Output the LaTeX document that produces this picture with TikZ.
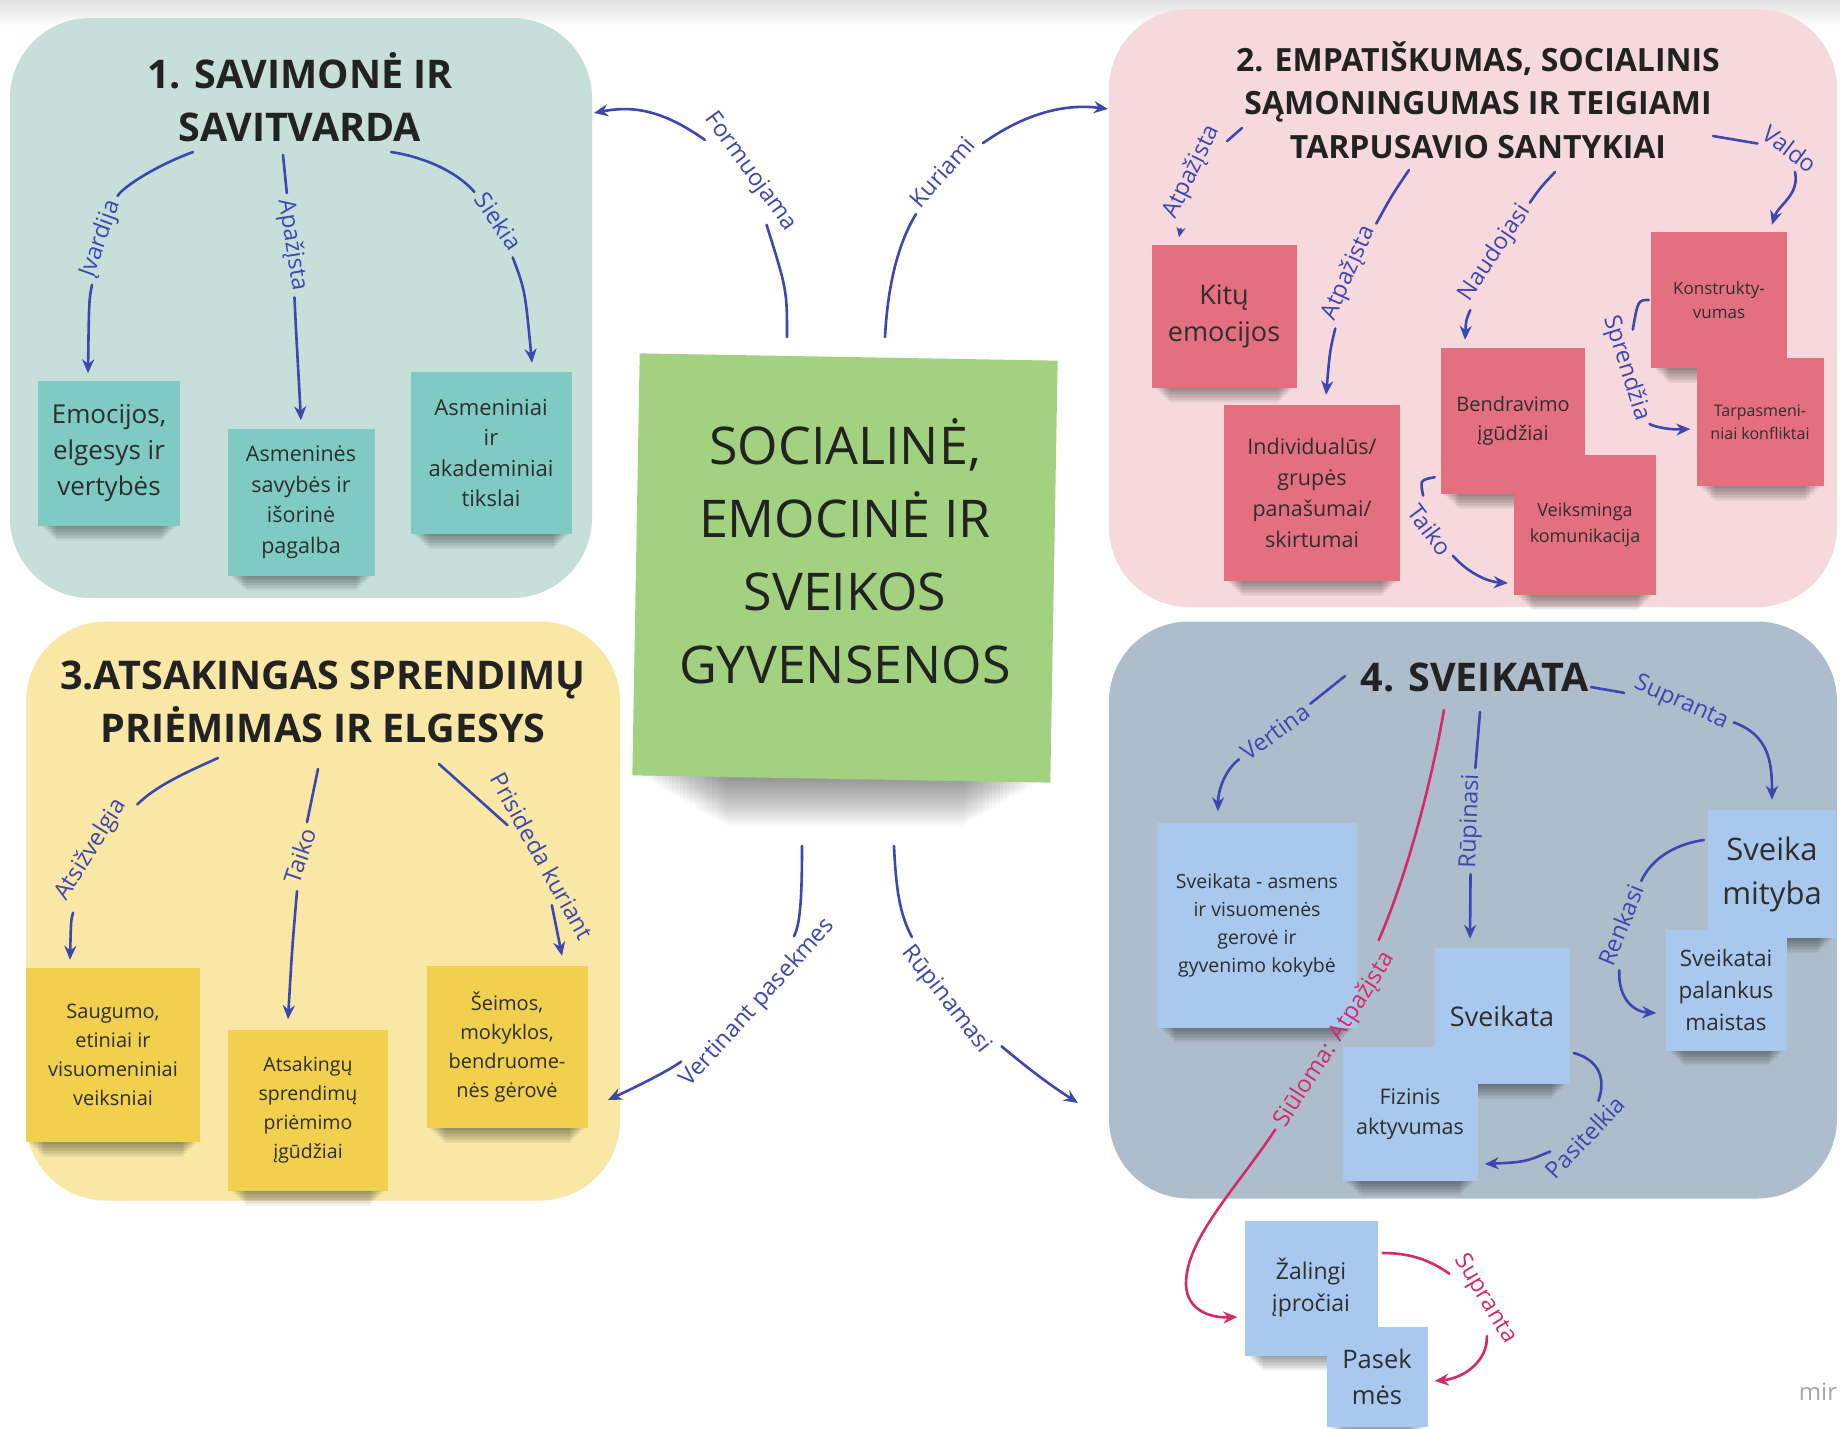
\documentclass[tikz,border=0pt]{standalone}
\usepackage{fontspec}
\setmainfont{Open Sans}
\usetikzlibrary{arrows.meta,calc}
\definecolor{bgA}{HTML}{C6E0D9}
\definecolor{ntA}{HTML}{7FCAC2}
\definecolor{bgB}{HTML}{F5D9DD}
\definecolor{ntB}{HTML}{E4707F}
\definecolor{bgC}{HTML}{F8E7A5}
\definecolor{ntC}{HTML}{F1D04D}
\definecolor{bgD}{HTML}{AEBDCC}
\definecolor{ntD}{HTML}{A8C8EE}
\definecolor{ctr}{HTML}{A2D17F}
\definecolor{arrowblue}{HTML}{3D47B0}
\definecolor{crimson}{HTML}{D42A6B}
\definecolor{ink}{HTML}{222222}
\definecolor{noteink}{HTML}{2E2E2E}
\newcommand{\myfs}[2]{\fontsize{#1}{#2}\selectfont}
% #1 name, #2 x, #3 y, #4 w, #5 h, #6 options, #7 text
\newcommand{\stickynote}[7]{%
  \foreach \k in {1,...,10}{%
    \fill[black, fill opacity=0.045]
      ({#2-#4/2+2+\k*1.6},{#3+#5/2-2}) rectangle ({#2+#4/2-2-\k*1.6},{#3+#5/2+\k*1.5});}
  \node[note, nsize={#4}{#5}, #6] (#1) at (#2,#3) {#7};}
\begin{document}
\begin{tikzpicture}[x=1pt,y=-1pt,
  area/.style={rounded corners=80pt, inner sep=0pt},
  note/.style={align=center, inner sep=0pt, text=noteink},
  nsize/.style 2 args={minimum width=#1pt, minimum height=#2pt},
  ttl/.style={align=center, font=\bfseries\myfs{39.5}{53}, text=ink},
  arr/.style={draw=arrowblue, line width=2.6pt, line cap=round},
  crim/.style={draw=crimson, line width=2.6pt, line cap=round},
  arrtip/.style={-{Stealth[length=14pt,width=12pt]}},
  arrtipS/.style={-{Stealth[length=10pt,width=9pt]}},
  lbl/.style={text=arrowblue, font=\myfs{23.5}{28}, inner sep=6pt},
  clbl/.style={lbl, text=crimson}]
\useasboundingbox (0,0) rectangle (1840,1428);
\clip (0,0) rectangle (1840,1428);
\fill[white] (0,0) rectangle (1840,1428);
\shade[top color=black!12, bottom color=white] (0,0) rectangle (1840,26);

% areas
\node[area, fill=bgA, minimum width=582pt, minimum height=580pt] (box1) at (301,308) {};
\node[area, fill=bgB, minimum width=728pt, minimum height=598pt] (box2) at (1473,308) {};
\node[area, fill=bgC, minimum width=594pt, minimum height=579pt] (box3) at (323,911) {};
\node[area, fill=bgD, minimum width=728pt, minimum height=577pt] (box4) at (1473,910) {};

% titles
\node[ttl] (t1) at (300,97) {1. SAVIMONĖ IR\\SAVITVARDA};
\node[ttl, font=\bfseries\myfs{32}{43.5}] (t2) at (1478,100) {2. EMPATIŠKUMAS, SOCIALINIS\\SĄMONINGUMAS IR TEIGIAMI\\TARPUSAVIO SANTYKIAI};
\node[ttl] (t3) at (323,702) {3.ATSAKINGAS SPRENDIMŲ\\PRIĖMIMAS IR ELGESYS};
\node[ttl] (t4) at (1475,677) {4. SVEIKATA};

% center note with soft shadow
\foreach \k in {1,...,24}{%
  \fill[black, fill opacity=0.018] ({640+\k*3.6},{772}) rectangle ({1050-\k*3.6},{776+\k*2.1});}
\node[inner sep=0pt, fill=ctr, nsize={418}{422}, rotate=-1] (gr) at (845,568) {};
\node[align=center, inner sep=0pt, text=ink, font=\myfs{52}{73}] (grt) at (845,551)
  {SOCIALINĖ,\\EMOCINĖ IR\\SVEIKOS\\GYVENSENOS};

% box 1 notes
\stickynote{e11}{109}{453}{142}{145}{fill=ntA, font=\myfs{26}{36}}{Emocijos,\\elgesys ir\\vertybės}
\stickynote{e12}{301}{502}{147}{147}{fill=ntA, font=\myfs{21.5}{30.5}}{Asmeninės\\savybės ir\\išorinė\\pagalba}
\stickynote{e13}{491}{453}{161}{162}{fill=ntA, font=\myfs{22}{30.5}}{Asmeniniai\\ir\\akademiniai\\tikslai}

% box 2 notes
\stickynote{e21}{1224}{316}{145}{143}{fill=ntB, font=\myfs{27}{37}}{Kitų\\emocijos}
\stickynote{e22}{1312}{493}{176}{176}{fill=ntB, font=\myfs{21.5}{31}}{Individualūs/\\grupės\\panašumai/\\skirtumai}
\stickynote{e23}{1513}{421}{144}{146}{fill=ntB, font=\myfs{20}{29}}{Bendravimo\\įgūdžiai}
\stickynote{e27}{1585}{525}{142}{140}{fill=ntB, font=\myfs{18}{26}}{Veiksminga\\komunikacija}
\stickynote{e24}{1719}{300}{136}{136}{fill=ntB, font=\myfs{17}{24}}{Konstrukty-\\vumas}
\stickynote{e25}{1760}{422}{127}{128}{fill=ntB, font=\myfs{16}{23}}{Tarpasmeni-\\niai konfliktai}

% box 3 notes
\stickynote{e31}{113}{1055}{174}{174}{fill=ntC, font=\myfs{20}{29}}{Saugumo,\\etiniai ir\\visuomeniniai\\veiksniai}
\stickynote{e32}{308}{1110}{160}{161}{fill=ntC, font=\myfs{19.5}{29}}{Atsakingų\\sprendimų\\priėmimo\\įgūdžiai}
\stickynote{e33}{507}{1047}{161}{162}{fill=ntC, font=\myfs{20}{29}}{Šeimos,\\mokyklos,\\bendruome-\\nės gėrovė}

% box 4 notes
\stickynote{e41}{1257}{925}{200}{205}{fill=ntD, font=\myfs{19.5}{28}}{Sveikata - asmens\\ir visuomenės\\gerovė ir\\gyvenimo kokybė}
\stickynote{e43}{1502}{1016}{135}{136}{fill=ntD, font=\myfs{27}{36}}{Sveikata}
\stickynote{e44}{1410}{1114}{135}{134}{fill=ntD, font=\myfs{21.5}{30}}{Fizinis\\aktyvumas}
\stickynote{e42}{1772}{874}{128}{128}{fill=ntD, font=\myfs{31}{44}}{Sveika\\mityba}
\stickynote{e45}{1726}{990}{121}{121}{fill=ntD, font=\myfs{22.5}{32}}{Sveikatai\\palankus\\maistas}
\stickynote{e51}{1311}{1288}{133}{135}{fill=ntD, font=\myfs{23}{32}}{Žalingi\\įpročiai}
\stickynote{e52}{1377}{1377}{101}{100}{fill=ntD, font=\myfs{25.5}{36}}{Pasek\\mės}

\node[text=black!35, font=\myfs{24}{28}, inner sep=0pt] (miro) at (1818,1392) {mir};

% ---------- connectors: box 1
\coordinate (s11) at (193,152);
\coordinate (s12) at (283,155);
\coordinate (s13) at (391,152);
\node[lbl, rotate=70] (l11) at (101,239) {Įvardija};
\node[lbl, rotate=-81] (l12) at (292,245) {Apažįsta};
\node[lbl, rotate=-56] (l13) at (499,221) {Siekia};
\draw[arr] (s11) .. controls (150,168) and (120,190) .. (l11);
\draw[arr,arrtip] (l11) .. controls (89,300) .. ($(e11.north)+(-21,-7)$);
\draw[arr] (s12) -- (l12);
\draw[arr,arrtip] (l12) .. controls (296,330) .. ($(e12.north)+(0,-8)$);
\draw[arr] (s13) .. controls (430,158) and (460,175) .. (l13);
\draw[arr,arrtip] (l13) .. controls (525,290) .. ($(e13.north)+(41,-9)$);

% ---------- central connectors
\coordinate (s0a) at (787,337);
\coordinate (s0b) at (885,337);
\coordinate (s0c) at (802,846);
\coordinate (s0d) at (894,846);
\coordinate (in1) at (594,113);
\coordinate (in2) at (1108,109);
\coordinate (in3) at (608,1100);
\coordinate (in4) at (1078,1103);
\node[lbl, rotate=-54] (lF) at (750,172) {Formuojama};
\node[lbl, rotate=48.5] (lK) at (942,172) {Kuriami};
\node[lbl, rotate=48] (lV) at (758,1003) {Vertinant pasekmes};
\node[lbl, rotate=-52] (lR) at (946,1000) {Rūpinamasi};
\draw[arr] (s0a) .. controls (787,290) .. (lF);
\draw[arr,arrtip] (lF) .. controls (660,108) and (630,106) .. (in1);
\draw[arr] (s0b) .. controls (888,280) and (900,240) .. (lK);
\draw[arr,arrtip] (lK) .. controls (1030,110) and (1070,104) .. (in2);
\draw[arr] (s0c) .. controls (802,900) and (800,925) .. (lV);
\draw[arr,arrtip] (lV) .. controls (670,1070) and (640,1085) .. (in3);
\draw[arr] (s0d) .. controls (896,890) and (900,915) .. (lR);
\draw[arr,arrtip] (lR) .. controls (1030,1070) and (1050,1085) .. (in4);

% ---------- box 2 connectors
\coordinate (s21) at (1242,128);
\coordinate (s22) at (1409,170);
\coordinate (s23) at (1555,172);
\coordinate (s24) at (1713,136);
\coordinate (s25) at ($(e24.west)+(-2,0)$);
\coordinate (s26) at ($(e23.south west)+(-6,-17)$);
\node[lbl, rotate=64] (l21) at (1192,172) {Atpažįsta};
\node[lbl, rotate=66] (l22) at (1349,273) {Atpažįsta};
\node[lbl, rotate=56] (l23) at (1495,253) {Naudojasi};
\node[lbl, rotate=-37] (l24) at (1790,149) {Valdo};
\node[lbl, rotate=-72.5] (l25) at (1626,368) {Sprendžia};
\node[lbl, rotate=-53] (l26) at (1430,530) {Taiko};
\draw[arr] (s21) -- (l21);
\draw[arr,arrtipS] (l21) -- ($(e21.north)+(-45,-7)$);
\draw[arr] (s22) .. controls (1392,195) .. (l22);
\draw[arr,arrtip] (l22) .. controls (1330,350) .. ($(e22.north)+(14,-10)$);
\draw[arr] (s23) .. controls (1540,188) .. (l23);
\draw[arr,arrtip] (l23) .. controls (1466,320) .. ($(e23.north)+(-48,-8)$);
\draw[arr] (s24) -- (l24);
\draw[arr,arrtip] (l24) .. controls (1800,195) and (1778,205) .. ($(e24.north)+(53,-7)$);
\draw[arr] (s25) .. controls (1638,300) .. (l25);
\draw[arr,arrtip] (l25) .. controls (1650,425) and (1665,430) .. ($(e25.west)+(-6,7)$);
\draw[arr] (s26) .. controls (1420,480) .. (l26);
\draw[arr,arrtip] (l26) .. controls (1470,575) and (1490,582) .. ($(e27.west)+(-6,58)$);

% ---------- box 3 connectors
\coordinate (s31) at (218,758);
\coordinate (s32) at (318,769);
\coordinate (s33) at (439,764);
\node[lbl, rotate=58] (l31) at (91,850) {Atsižvelgia};
\node[lbl, rotate=71] (l32) at (300,856) {Taiko};
\node[lbl, rotate=-61] (l33) at (542,856) {Prisideda kuriant};
\draw[arr] (s31) .. controls (180,775) and (155,787) .. (l31);
\draw[arr,arrtip] (l31) .. controls (71,920) .. ($(e31.north)+(-43,-8)$);
\draw[arr] (s32) -- (l32);
\draw[arr,arrtip] (l32) .. controls (292,950) .. ($(e32.north)+(-20,-10)$);
\draw[arr] (s33) -- (l33);
\draw[arr,arrtip] (l33) -- ($(e33.north)+(55,-10)$);

% ---------- box 4 connectors
\coordinate (s41) at (1345,676);
\coordinate (s42) at (1591,687);
\coordinate (s43) at (1480,712);
\coordinate (s44) at ($(e42.west)+(-4,-34)$);
\coordinate (s45) at ($(e43.east)+(4,37)$);
\coordinate (s46) at (1444,710);
\coordinate (s52) at ($(e51.east)+(5,-35)$);
\node[lbl, rotate=36] (l41) at (1275,732) {Vertina};
\node[lbl, rotate=-24] (l42) at (1681,703) {Supranta};
\node[lbl, rotate=88] (l43) at (1471,821) {Rūpinasi};
\node[lbl, rotate=68] (l44) at (1621,925) {Renkasi};
\node[lbl, rotate=46.5] (l45) at (1585,1137) {Pasitelkia};
\node[clbl, rotate=57.5] (l46) at (1335,1040) {Siūloma: Atpažįsta};
\node[clbl, rotate=-59] (l52) at (1485,1299) {Supranta};
\draw[arr] (s41) -- (l41);
\draw[arr,arrtip] (l41) .. controls (1225,770) and (1218,790) .. ($(e41.north)+(-39,-11)$);
\draw[arr] (s42) -- (l42);
\draw[arr,arrtip] (l42) .. controls (1768,735) and (1772,760) .. ($(e42.north)+(0,-10)$);
\draw[arr] (s43) -- (l43);
\draw[arr,arrtip] (l43) -- ($(e43.north)+(-32,-9)$);
\draw[arr] (s44) .. controls (1670,845) and (1650,862) .. (l44);
\draw[arr,arrtip] (l44) .. controls (1618,1000) and (1635,1012) .. ($(e45.west)+(-9,23)$);
\draw[arr] (s45) .. controls (1600,1060) and (1606,1080) .. (l45);
\draw[arr,arrtip] (l45) .. controls (1525,1162) .. ($(e44.east)+(7,50)$);
\draw[crim] (s46) .. controls (1430,790) and (1405,880) .. (l46);
\draw[crim,arrtip] (l46) .. controls (1235,1190) and (1185,1240) .. (1186,1285)
   .. controls (1187,1310) and (1210,1318) .. ($(e51.west)+(-7,29)$);
\draw[crim] (s52) .. controls (1410,1253) and (1430,1260) .. (l52);
\draw[crim,arrtip] (l52) .. controls (1488,1360) and (1465,1378) .. ($(e52.east)+(7,4)$);
\end{tikzpicture}
\end{document}
